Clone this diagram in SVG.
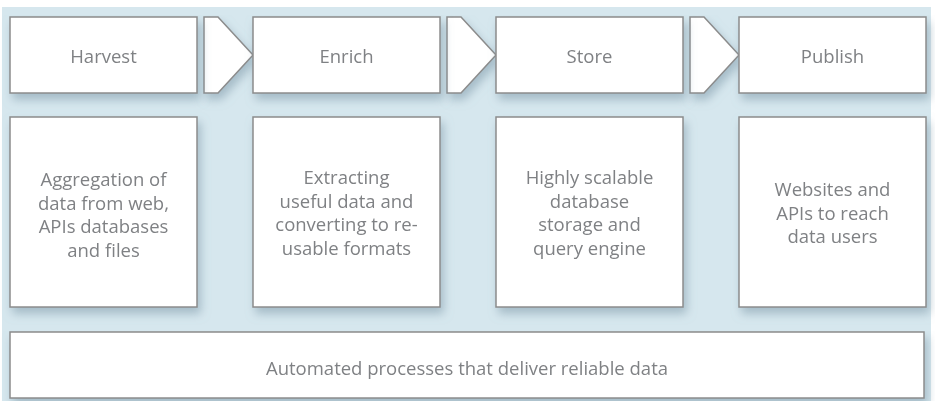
<svg xmlns="http://www.w3.org/2000/svg" width="935" height="401" viewBox="0 0 935 401">
<defs>
<filter id="sh" x="-10%" y="-10%" width="130%" height="140%">
<feGaussianBlur in="SourceAlpha" stdDeviation="5"/>
<feOffset dx="3" dy="6" result="b"/>
<feFlood flood-color="#7d98a8" flood-opacity="0.55"/>
<feComposite in2="b" operator="in"/>
<feMerge><feMergeNode/><feMergeNode in="SourceGraphic"/></feMerge>
</filter>
<style>
.box{fill:#ffffff;stroke:#8c8c8c;stroke-width:1.5}
.t{font-family:"Open Sans","Noto Sans",sans-serif;font-size:18.5px;fill:#7f8184;text-anchor:middle}
</style>
</defs>
<rect x="2" y="7" width="929" height="394" fill="#d6e7ee"/>
<g id="connectors" filter="url(#sh)">
<polygon class="box" points="204,17 218,17 253,55 218,93 204,93"/>
<polygon class="box" points="447,17 461,17 496,55 461,93 447,93"/>
<polygon class="box" points="690,17 704,17 739,55 704,93 690,93"/>
</g>
<g id="harvest" filter="url(#sh)">
<rect class="box" x="10" y="17" width="187" height="76"/>
<text class="t" x="103.5" y="63">Harvest</text>
</g>
<g id="enrich" filter="url(#sh)">
<rect class="box" x="253" y="17" width="187" height="76"/>
<text class="t" x="346.5" y="63">Enrich</text>
</g>
<g id="store" filter="url(#sh)">
<rect class="box" x="496" y="17" width="187" height="76"/>
<text class="t" x="589.5" y="63">Store</text>
</g>
<g id="publish" filter="url(#sh)">
<rect class="box" x="739" y="17" width="187" height="76"/>
<text class="t" x="832.5" y="63">Publish</text>
</g>
<g id="harvest-desc" filter="url(#sh)">
<rect class="box" x="10" y="117" width="187" height="190"/>
<text class="t" x="103.5" y="186">Aggregation of</text>
<text class="t" x="103.5" y="209.5">data from web,</text>
<text class="t" x="103.5" y="233">APIs databases</text>
<text class="t" x="103.5" y="256.5">and files</text>
</g>
<g id="enrich-desc" filter="url(#sh)">
<rect class="box" x="253" y="117" width="187" height="190"/>
<text class="t" x="346.5" y="184">Extracting</text>
<text class="t" x="346.5" y="207.5">useful data and</text>
<text class="t" x="346.5" y="231">converting to re-</text>
<text class="t" x="346.5" y="254.5">usable formats</text>
</g>
<g id="store-desc" filter="url(#sh)">
<rect class="box" x="496" y="117" width="187" height="190"/>
<text class="t" x="589.5" y="184">Highly scalable</text>
<text class="t" x="589.5" y="207.5">database</text>
<text class="t" x="589.5" y="231">storage and</text>
<text class="t" x="589.5" y="254.5">query engine</text>
</g>
<g id="publish-desc" filter="url(#sh)">
<rect class="box" x="739" y="117" width="187" height="190"/>
<text class="t" x="832.5" y="196">Websites and</text>
<text class="t" x="832.5" y="219.5">APIs to reach</text>
<text class="t" x="832.5" y="243">data users</text>
</g>
<g id="automation" filter="url(#sh)">
<rect class="box" x="10" y="332" width="914" height="66"/>
<text class="t" x="467" y="375">Automated processes that deliver reliable data</text>
</g>
</svg>
